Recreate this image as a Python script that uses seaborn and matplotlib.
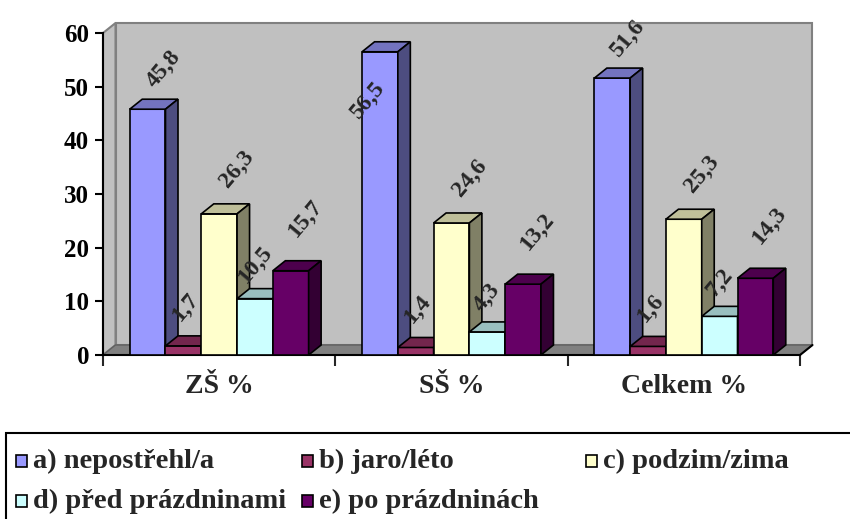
import numpy as np
import pandas as pd
import matplotlib
matplotlib.use("Agg")
import matplotlib.pyplot as plt
from matplotlib.patches import Polygon, Rectangle
from matplotlib.colors import to_rgb
import seaborn as sns

# ---- data ----
categories = ["ZŠ %", "SŠ %", "Celkem %"]
series = ["a) nepostřehl/a", "b) jaro/léto", "c) podzim/zima",
          "d) před prázdninami", "e) po prázdninách"]
nepostrehl = [45.8, 56.5, 51.6]
jaro_leto = [1.7, 1.4, 1.6]
podzim_zima = [26.3, 24.6, 25.3]
pred_prazdninami = [10.5, 4.3, 7.2]
po_prazdninach = [15.7, 13.2, 14.3]
y_ticks = [0, 10, 20, 30, 40, 50, 60]

colors = ["#9999FF", "#993366", "#FFFFCC", "#CCFFFF", "#660066"]
# label offsets (pixels right, pixels up) from the top centre of each bar, per series
label_offsets = [(16, 40), (2, 38), (18, 45), (0, 34), (14, 52)]

values = [nepostrehl, jaro_leto, podzim_zima, pred_prazdninami, po_prazdninach]
df = pd.DataFrame({
    "kategorie": [c for _ in series for c in categories],
    "serie": [s for s in series for _ in categories],
    "hodnota": [v for vals in values for v in vals],
})

sns.set_theme(style="white")
plt.rcParams["font.family"] = ["Liberation Serif", "DejaVu Serif"]
plt.rcParams["font.weight"] = "bold"

W, H = 850, 519
fig = plt.figure(figsize=(W / 100, H / 100), dpi=100)
fig.patch.set_facecolor("white")

# front plane of the plot in pixels
L, R, B, T = 103, 800, 355, 33
ax = fig.add_axes([L / W, 1 - B / H, (R - L) / W, (B - T) / H])

sns.barplot(data=df, x="kategorie", y="hodnota", hue="serie",
            palette=colors, saturation=1, width=0.77,
            edgecolor="black", linewidth=1.2, legend=False, ax=ax)

ax.set_xlim(-0.5, 2.5)
ax.set_ylim(0, 60)
ax.patch.set_visible(False)

# depth offset of the 3-D effect (pixels -> data units)
px_x = (R - L) / 3.0
px_y = (B - T) / 60.0
DX_PX, DY_PX = 12.5, 10.0
dx = DX_PX / px_x
dy = DY_PX / px_y

# walls and floor
wall_c, edge_c = "#C0C0C0", "#808080"
ax.add_patch(Polygon([(-0.5 + dx, dy), (2.5 + dx, dy), (2.5 + dx, 60 + dy), (-0.5 + dx, 60 + dy)],
                     closed=True, facecolor=wall_c, edgecolor=edge_c, lw=1.5,
                     zorder=0.2, clip_on=False))
ax.add_patch(Polygon([(-0.5, 0), (-0.5, 60), (-0.5 + dx, 60 + dy), (-0.5 + dx, dy)],
                     closed=True, facecolor=wall_c, edgecolor=edge_c, lw=1.5,
                     zorder=0.3, clip_on=False))
ax.add_patch(Polygon([(-0.5, 0), (2.5, 0), (2.5 + dx, dy), (-0.5 + dx, dy)],
                     closed=True, facecolor="#808080", edgecolor="#606060", lw=1.0,
                     zorder=0.4, clip_on=False))
ax.plot([2.5, 2.5 + dx], [0, dy], color="black", lw=1.5, zorder=2.6, clip_on=False)


def shade(c, f):
    r, g, b = to_rgb(c)
    return (r * f, g * f, b * f)


# give bars left-to-right stacking and add top/side faces
for si, cont in enumerate(ax.containers):
    for bar in cont:
        x0, w, h = bar.get_x(), bar.get_width(), bar.get_height()
        z = 3 + x0 * 0.1 + 0.3
        bar.set_zorder(z)
        top = Polygon([(x0, h), (x0 + w, h), (x0 + w + dx, h + dy), (x0 + dx, h + dy)],
                      closed=True, facecolor=shade(colors[si], 0.75),
                      edgecolor="black", lw=1.2, zorder=z, clip_on=False)
        side = Polygon([(x0 + w, 0), (x0 + w + dx, dy), (x0 + w + dx, h + dy), (x0 + w, h)],
                       closed=True, facecolor=shade(colors[si], 0.5),
                       edgecolor="black", lw=1.2, zorder=z, clip_on=False)
        ax.add_patch(top)
        ax.add_patch(side)

        label = f"{h:.1f}".replace(".", ",")
        off = label_offsets[si]
        if h + off[1] / px_y > 62:
            # no room above the wall: put the label down the bar
            off = (-12, -48)
        ax.annotate(label, xy=(x0 + w / 2, h), xytext=off, textcoords="offset pixels",
                    rotation=50, rotation_mode="anchor", ha="center", va="center",
                    fontsize=17, fontweight="bold", zorder=20, annotation_clip=False)

# axes styling
for s in ["top", "right"]:
    ax.spines[s].set_visible(False)
for s in ["left", "bottom"]:
    ax.spines[s].set_color("black")
    ax.spines[s].set_linewidth(1.5)
    ax.spines[s].set_zorder(2.5)

ax.set_yticks(y_ticks)
ax.set_yticklabels([str(t) for t in y_ticks])
ax.tick_params(axis="y", left=True, direction="out", length=6, width=1.5,
               labelsize=18, pad=4, colors="black")
ax.set_xticks(range(len(categories)))
ax.set_xticklabels(categories)
ax.set_xticks([-0.5, 0.5, 1.5, 2.5], minor=True)
ax.tick_params(axis="x", which="major", bottom=True, length=0, labelsize=20, pad=14)
ax.tick_params(axis="x", which="minor", bottom=True, direction="out", length=8, width=1.5)
for t in ax.get_xticklabels() + ax.get_yticklabels():
    t.set_fontweight("bold")
ax.set_xlabel("")
ax.set_ylabel("")

# legend box
leg_top = 433
fig.add_artist(Rectangle((6 / W, -0.05), 1.0, (1 - leg_top / H) + 0.05,
                         transform=fig.transFigure, fill=False,
                         edgecolor="black", lw=1.5))
col_x = [16, 302, 586]
row_y = [461, 501]
for i, (name, c) in enumerate(zip(series, colors)):
    cx = col_x[i % 3]
    cy = row_y[i // 3]
    fig.add_artist(Rectangle((cx / W, 1 - (cy + 6) / H), 11 / W, 12 / H,
                             transform=fig.transFigure, facecolor=c,
                             edgecolor="black", lw=1.2))
    fig.text((cx + 17) / W, 1 - cy / H, name, fontsize=20.5, fontweight="bold",
             ha="left", va="center")

fig.savefig("out.png", dpi=100, facecolor="white")
